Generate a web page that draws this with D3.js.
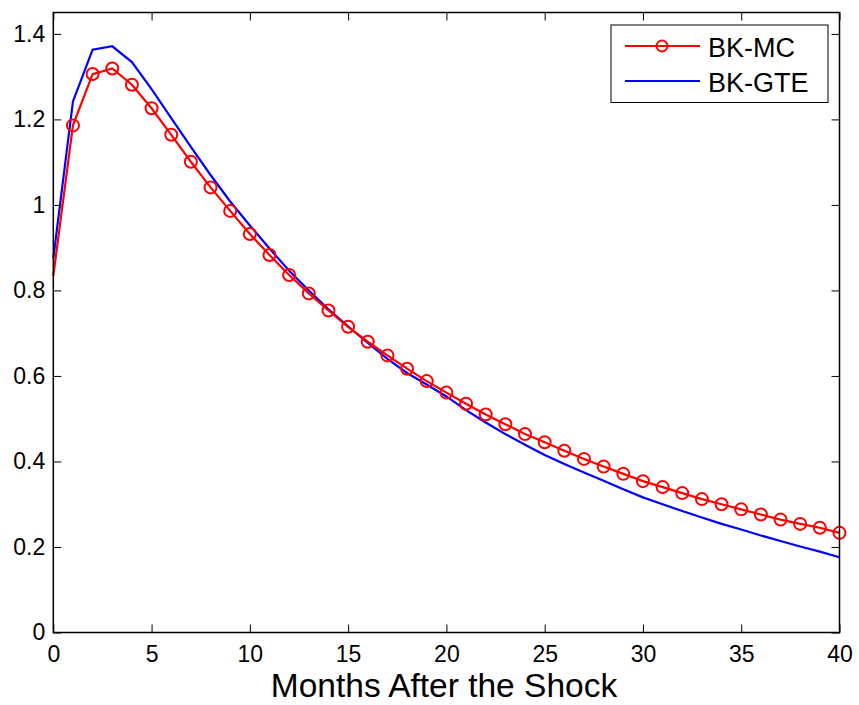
<!DOCTYPE html>
<html>
<head>
<meta charset="utf-8">
<script src="https://cdn.jsdelivr.net/npm/d3@7"></script>
<style>
  html, body { margin: 0; padding: 0; background: #fff; }
  svg { display: block; font-family: "Liberation Sans", Arial, sans-serif; }
</style>
</head>
<body>
<svg id="chart" width="859" height="705"></svg>
<script>
const months = d3.range(0, 41);
const bkMC = [0.834, 1.186, 1.306, 1.319, 1.281, 1.226, 1.164, 1.101, 1.041, 0.986,
  0.932, 0.883, 0.836, 0.793, 0.753, 0.715, 0.680, 0.648, 0.617, 0.588,
  0.561, 0.535, 0.510, 0.487, 0.464, 0.445, 0.425, 0.406, 0.388, 0.371,
  0.354, 0.340, 0.326, 0.312, 0.300, 0.288, 0.276, 0.264, 0.254, 0.245, 0.233];
const bkGTE = [0.875, 1.242, 1.363, 1.371, 1.334, 1.271, 1.203, 1.136, 1.070, 1.008,
  0.952, 0.898, 0.846, 0.800, 0.756, 0.716, 0.677, 0.640, 0.607, 0.580,
  0.552, 0.520, 0.491, 0.464, 0.439, 0.415, 0.394, 0.374, 0.355, 0.335,
  0.316, 0.300, 0.284, 0.269, 0.254, 0.241, 0.227, 0.214, 0.201, 0.189, 0.176];
const markerMonths = d3.range(1, 41);
const xTicks = [0, 5, 10, 15, 20, 25, 30, 35, 40];
const yTicks = [0, 0.2, 0.4, 0.6, 0.8, 1, 1.2, 1.4];
const xLabel = "Months After the Shock";
const seriesNames = ["BK-MC", "BK-GTE"];

const svg = d3.select("#chart");
const L = 53.3, R = 839.5, T = 12.5, B = 632.5;
const x = d3.scaleLinear().domain([0, 40]).range([L, R]);
const y = d3.scaleLinear().domain([0, 1.45]).range([B, T]);

const fmt = d => (d === 0 ? "0" : (Number.isInteger(d) ? String(d) : d.toFixed(1)));

// Lines
const line = d3.line().x((d, i) => x(months[i])).y(d => y(d));
svg.append("path").datum(bkGTE).attr("d", line)
  .attr("fill", "none").attr("stroke", "#0000ff").attr("stroke-width", 2.2);
svg.append("path").datum(bkMC).attr("d", line)
  .attr("fill", "none").attr("stroke", "#ff0000").attr("stroke-width", 2.2);
svg.append("g").selectAll("circle").data(markerMonths).join("circle")
  .attr("cx", m => x(m)).attr("cy", m => y(bkMC[months.indexOf(m)])).attr("r", 6)
  .attr("fill", "none").attr("stroke", "#ff0000").attr("stroke-width", 2);

// Axes (box with inward ticks)
const tickLen = 8;
function styleAxis(g) {
  g.select(".domain").remove();
  g.selectAll(".tick line").attr("stroke", "#000").attr("stroke-width", 1);
}
const labelStyle = g => g.selectAll("text").attr("font-size", 23).attr("fill", "#000")
  .attr("font-family", "Liberation Sans, Arial, sans-serif");
svg.append("g").attr("transform", `translate(0,${B})`)
  .call(d3.axisBottom(x).tickValues(xTicks).tickSizeInner(-tickLen).tickSizeOuter(0).tickPadding(13).tickFormat(fmt))
  .call(styleAxis).call(labelStyle);
svg.append("g").attr("transform", `translate(0,${T})`)
  .call(d3.axisTop(x).tickValues(xTicks).tickSizeInner(-tickLen).tickSizeOuter(0).tickFormat(""))
  .call(styleAxis);
svg.append("g").attr("transform", `translate(${L},0)`)
  .call(d3.axisLeft(y).tickValues(yTicks).tickSizeInner(-tickLen).tickSizeOuter(0).tickPadding(8).tickFormat(fmt))
  .call(styleAxis).call(labelStyle);
svg.append("g").attr("transform", `translate(${R},0)`)
  .call(d3.axisRight(y).tickValues(yTicks).tickSizeInner(-tickLen).tickSizeOuter(0).tickFormat(""))
  .call(styleAxis);
svg.append("rect").attr("x", L).attr("y", T).attr("width", R - L).attr("height", B - T)
  .attr("fill", "none").attr("stroke", "#000").attr("stroke-width", 1.5);

// X label
svg.append("text").attr("x", 444).attr("y", 697)
  .attr("text-anchor", "middle").attr("font-size", 33.5).attr("fill", "#000")
  .text(xLabel);

// Legend
const lg = svg.append("g");
lg.append("rect").attr("x", 611).attr("y", 25).attr("width", 217).attr("height", 77.5)
  .attr("fill", "#fff").attr("stroke", "#000").attr("stroke-width", 1);
const colors = ["#ff0000", "#0000ff"];
const ly = [46, 81];
seriesNames.forEach((name, i) => {
  lg.append("line").attr("x1", 625).attr("x2", 700).attr("y1", ly[i]).attr("y2", ly[i])
    .attr("stroke", colors[i]).attr("stroke-width", 2.2);
  if (i === 0) {
    lg.append("circle").attr("cx", 662).attr("cy", ly[i]).attr("r", 5.5)
      .attr("fill", "none").attr("stroke", colors[i]).attr("stroke-width", 2);
  }
  lg.append("text").attr("x", 708).attr("y", ly[i] + 10.5).attr("font-size", 27)
    .attr("fill", "#000").text(name);
});
</script>
</body>
</html>
